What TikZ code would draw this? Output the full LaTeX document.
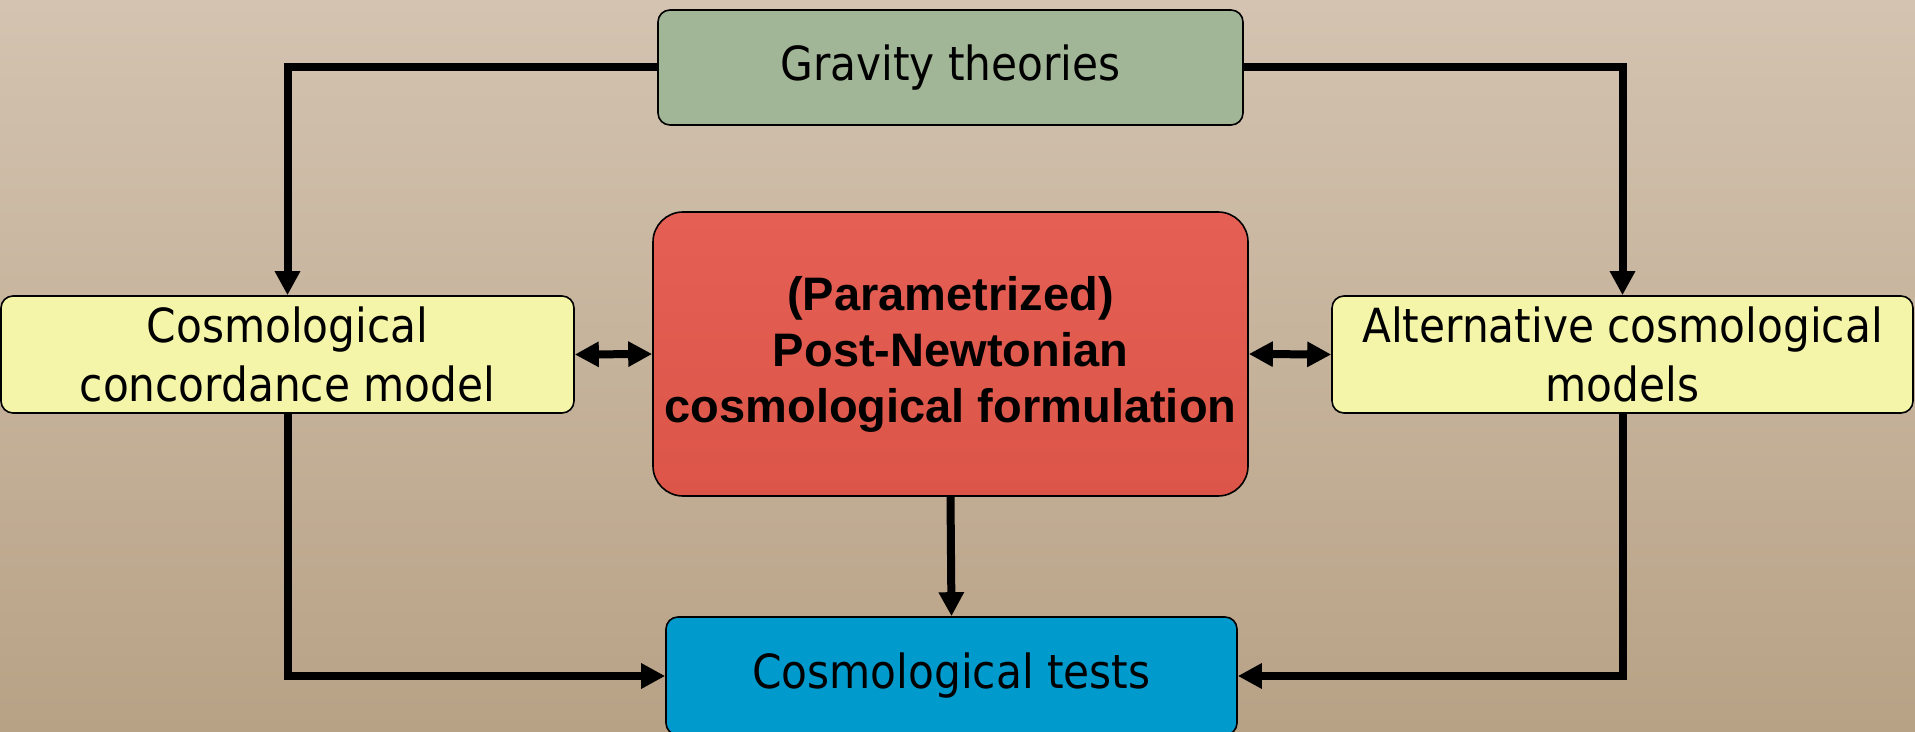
\documentclass[tikz,border=0pt]{standalone}
\usepackage{fontspec}
\setmainfont{DejaVu Sans Condensed}
\newfontfamily\boldface{Liberation Sans}[BoldFont={Liberation Sans Bold}]
\usetikzlibrary{arrows.meta}
\definecolor{bgtop}{RGB}{211,195,176}
\definecolor{bgbot}{RGB}{184,162,134}
\definecolor{gravgreen}{RGB}{161,181,151}
\definecolor{paleyellow}{RGB}{245,245,169}
\definecolor{redtop}{RGB}{229,95,85}
\definecolor{redbot}{RGB}{220,85,72}
\definecolor{testblue}{RGB}{0,154,205}
\tikzset{
  box/.style={draw=black, line width=0.8pt, rounded corners=6pt, align=center,
    inner sep=0pt, font=\fontsize{23.5pt}{29.5pt}\selectfont},
  conn/.style={line width=4pt, -{Triangle[length=12pt,width=12pt]}},
  both/.style={line width=4pt, {Triangle[length=12pt,width=12pt]}-{Triangle[length=12pt,width=12pt]}}
}
\begin{document}
\begin{tikzpicture}[x=0.5pt,y=-0.5pt]
  \useasboundingbox (0,0) rectangle (1915,732);
  \shade[top color=bgtop, bottom color=bgbot] (0,0) rectangle (1915,732);

  \node[box, fill=gravgreen, minimum width=292.5pt, minimum height=57.5pt] (grav) at (950.5,67.5) {Gravity theories};
  \node[box, fill=paleyellow, minimum width=286.5pt, minimum height=58.5pt] (conc) at (287.5,354.5) {Cosmological\\concordance model};
  \node[box, fill=paleyellow, minimum width=290.5pt, minimum height=58.5pt] (alt) at (1622.5,354.5) {Alternative cosmological\\models};
  \node[box, top color=redtop, bottom color=redbot, rounded corners=15pt, minimum width=297.5pt, minimum height=142pt,
        font=\boldface\bfseries\fontsize{23.5pt}{28pt}\selectfont] (ppn) at (950.5,354)
        {(Parametrized)\\Post-Newtonian\\cosmological formulation};
  \node[box, fill=testblue, minimum width=285.5pt, minimum height=59pt] (tests) at (951.5,676) {Cosmological tests};

  \draw[conn] (grav.west) -| (conc.north);
  \draw[conn] (grav.east) -| (alt.north);
  \draw[conn] (conc.south) |- (tests.west);
  \draw[conn] (alt.south) |- (tests.east);
  \draw[conn] (ppn.south) -- (tests.north);
  \draw[both] (conc.east) -- (ppn.west);
  \draw[both] (ppn.east) -- (alt.west);
\end{tikzpicture}
\end{document}
